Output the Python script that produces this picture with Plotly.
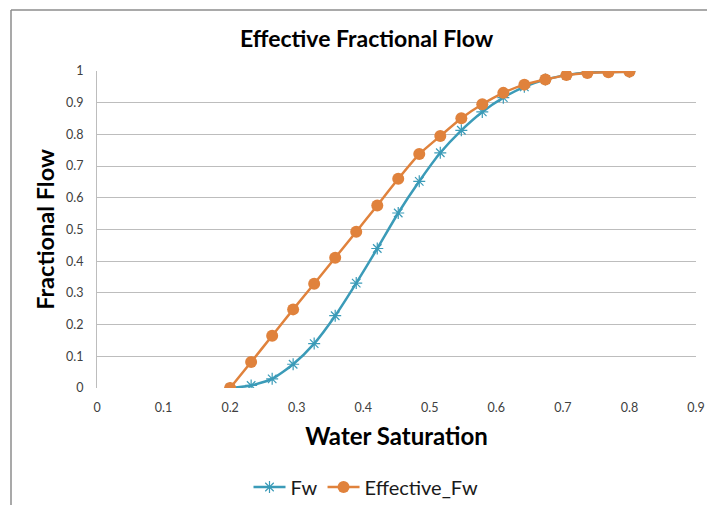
import plotly.graph_objects as go

# Water saturation sample points
sw = [0.2, 0.2316, 0.2632, 0.2947, 0.3263, 0.3579, 0.3895, 0.4211, 0.4526, 0.4842,
      0.5158, 0.5474, 0.5789, 0.6105, 0.6421, 0.6737, 0.7053, 0.7368, 0.7684, 0.8]

# Fractional flow of water
fw = [0.0, 0.008, 0.029, 0.075, 0.140, 0.228, 0.331, 0.440, 0.552, 0.652,
      0.742, 0.813, 0.871, 0.916, 0.950, 0.973, 0.987, 0.995, 0.997, 0.998]

# Effective fractional flow
effective_fw = [0.0, 0.082, 0.165, 0.248, 0.329, 0.411, 0.493, 0.576, 0.660, 0.738,
                0.795, 0.851, 0.895, 0.931, 0.957, 0.973, 0.987, 0.994, 0.996, 0.998]

x_ticks = [0, 0.1, 0.2, 0.3, 0.4, 0.5, 0.6, 0.7, 0.8, 0.9]
y_ticks = [0, 0.1, 0.2, 0.3, 0.4, 0.5, 0.6, 0.7, 0.8, 0.9, 1]

BLUE = "#3B9BB8"
ORANGE = "#E0823C"
FONT = "Lato"

W, H = 707, 505
L, R, T, B = 97, 11, 71, 117
pw, ph = W - L - R, H - T - B


def px(x):
    return (x - L) / pw


def py(y):
    return (H - B - y) / ph


fig = go.Figure()
fig.add_trace(go.Scatter(
    x=sw, y=fw, name="Fw", mode="lines+markers",
    line=dict(color=BLUE, width=2.5, shape="spline", smoothing=0.6),
    marker=dict(symbol="asterisk-open", size=10, color=BLUE,
                line=dict(color=BLUE, width=1.2)),
))
fig.add_trace(go.Scatter(
    x=sw, y=effective_fw, name="Effective_Fw", mode="lines+markers",
    line=dict(color=ORANGE, width=2.5, shape="spline", smoothing=0.4),
    marker=dict(symbol="circle", size=12, color=ORANGE),
))

fig.update_layout(
    width=W, height=H,
    margin=dict(l=L, r=R, t=T, b=B, autoexpand=False),
    paper_bgcolor="white", plot_bgcolor="white",
    font=dict(family=FONT, size=12, color="#404040"),
    showlegend=True,
    legend=dict(orientation="h", x=px(366), xanchor="center", y=py(487), yanchor="middle",
                font=dict(family=FONT, size=20, color="#1a1a1a"), itemwidth=32,
                tracegroupgap=0),
    xaxis=dict(range=[0, 0.9], tickvals=x_ticks, ticktext=[f"{v:g}" for v in x_ticks],
               showgrid=False, zeroline=False, showline=False, automargin=False,
               ticks="", ticklabelstandoff=10,
               tickfont=dict(family=FONT, size=12.5, color="#404040"),
               title=dict(text="<b>Water Saturation</b>", standoff=14,
                          font=dict(family=FONT, size=24, color="#000"))),
    yaxis=dict(range=[0, 1], tickvals=y_ticks, ticktext=[f"{v:g}" for v in y_ticks],
               showgrid=True, gridcolor="#BDBDBD", gridwidth=1, automargin=False,
               zeroline=False, showline=True, linecolor="#BDBDBD", linewidth=1,
               ticks="", ticklabelstandoff=10,
               tickfont=dict(family=FONT, size=12.5, color="#404040"),
               title=dict(text="<b>Fractional Flow</b>", standoff=4,
                          font=dict(family=FONT, size=23.5, color="#000"))),
    annotations=[dict(text="<b>Effective Fractional Flow</b>", xref="paper", yref="paper",
                      x=px(367), y=py(38), xanchor="center", yanchor="middle",
                      showarrow=False, font=dict(family=FONT, size=23, color="#000"))],
    shapes=[
        dict(type="line", xref="paper", yref="paper", x0=px(11), x1=px(707), y0=py(10), y1=py(10),
             line=dict(color="#8C8C8C", width=1.5)),
        dict(type="line", xref="paper", yref="paper", x0=px(11), x1=px(11), y0=py(10), y1=py(505),
             line=dict(color="#8C8C8C", width=1.5)),
    ],
)

fig.write_html("out.html")
